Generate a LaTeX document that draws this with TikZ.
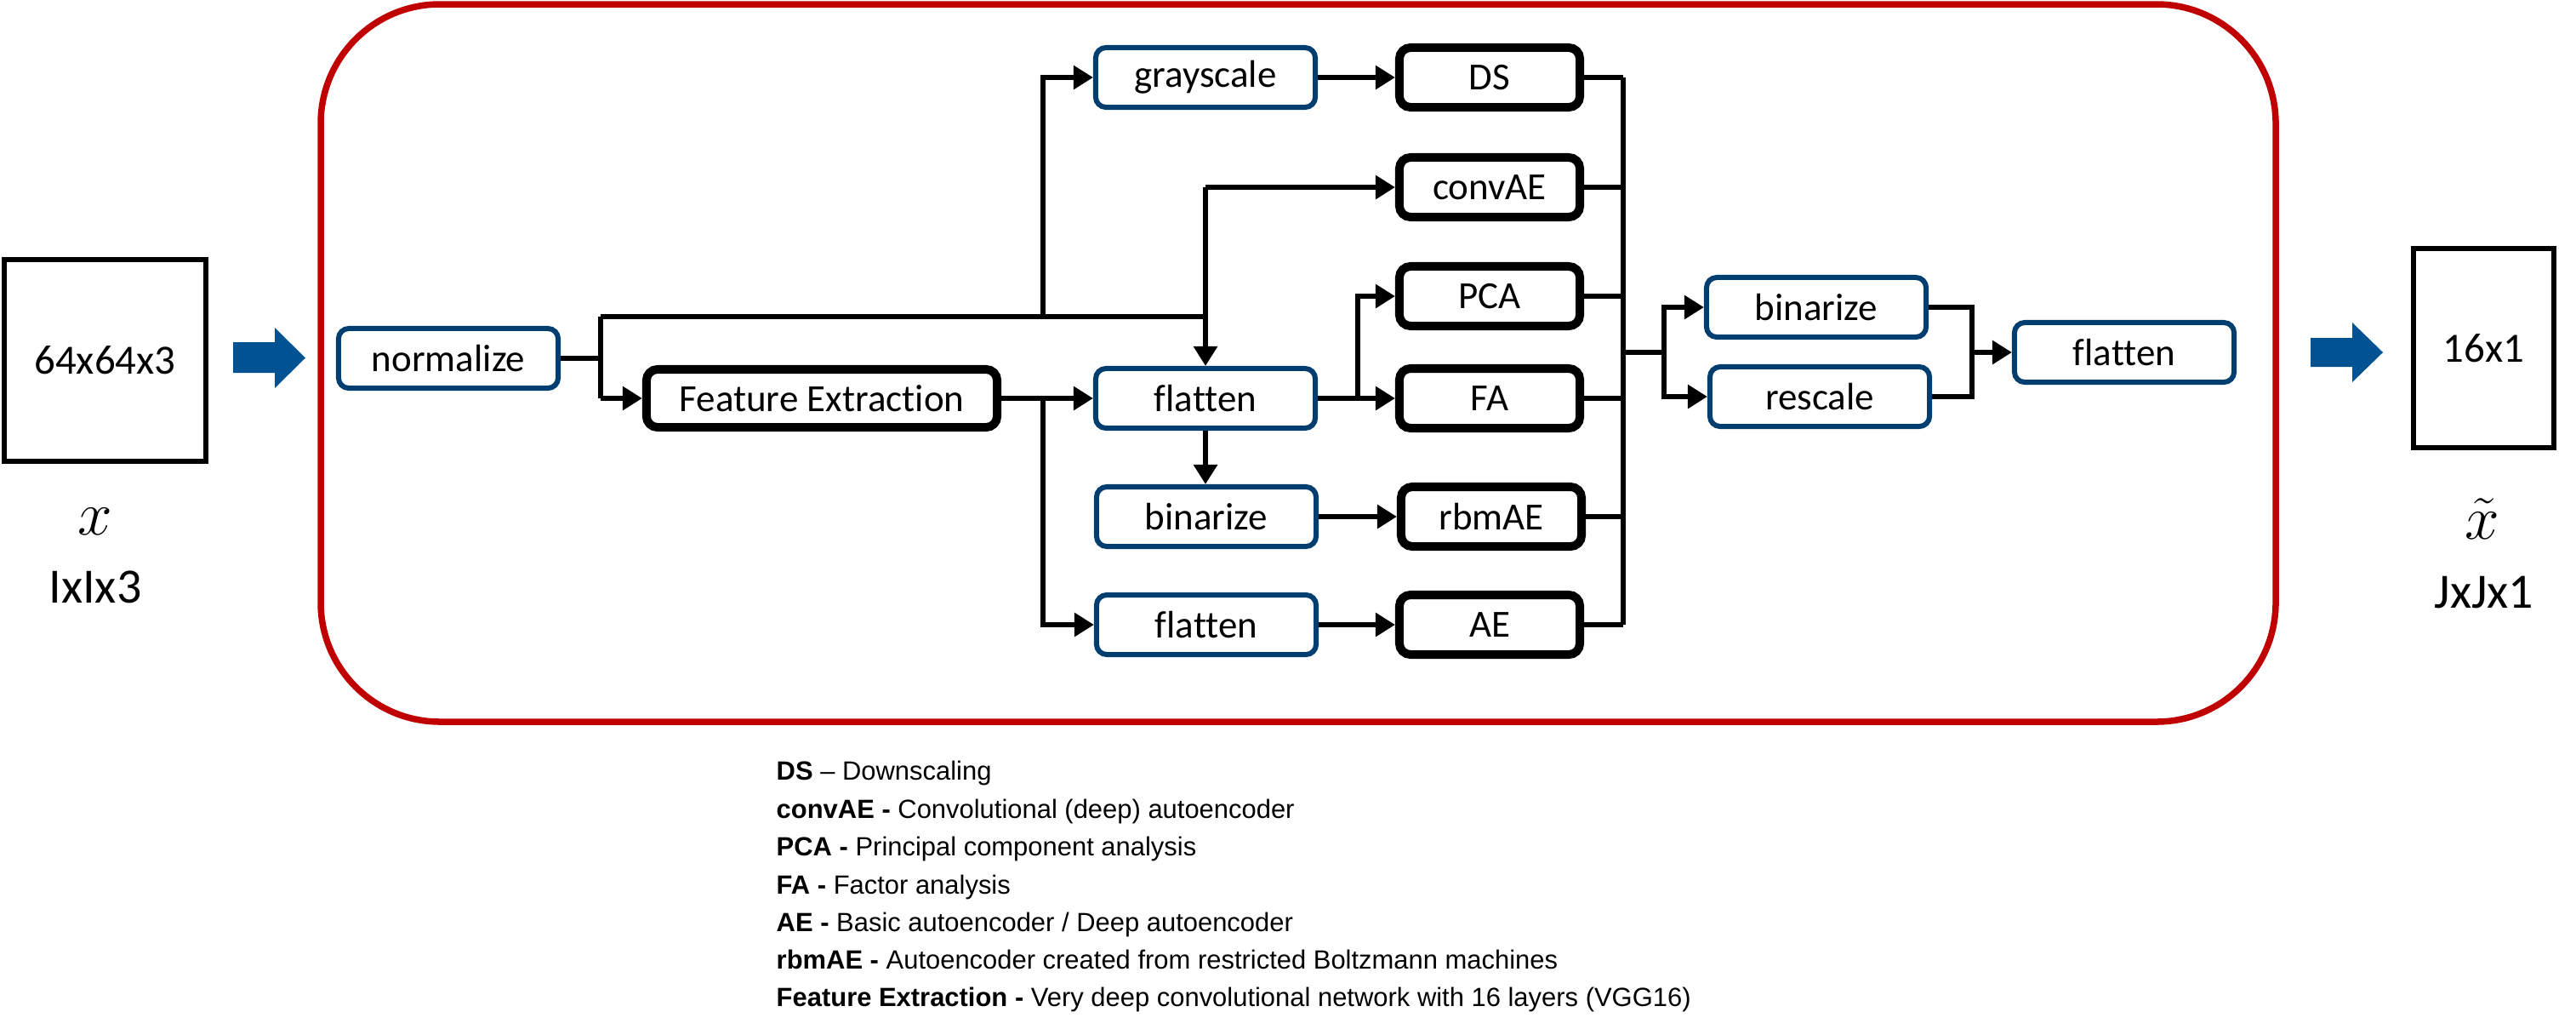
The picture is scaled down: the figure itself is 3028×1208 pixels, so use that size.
\documentclass[tikz,border=0pt]{standalone}
\usepackage{fontspec}
\setmainfont[Ligatures={TeX,NoCommon}]{Carlito}
\newfontfamily\legendfont{Liberation Sans}
\usetikzlibrary{arrows.meta}
\definecolor{boxblue}{RGB}{0,62,112}
\definecolor{arrowblue}{RGB}{0,82,147}
\definecolor{framered}{RGB}{192,0,0}

\begin{document}
\begin{tikzpicture}[x=0.01cm, y=-0.01cm,
    bluebox/.style={draw=boxblue, line width=0.06cm, rounded corners=0.12cm, minimum width=2.58cm, minimum height=0.70cm, inner sep=0, font=\fontsize{12.8}{15}\selectfont},
    blackbox/.style={draw, line width=0.10cm, rounded corners=0.13cm, minimum width=2.12cm, minimum height=0.70cm, inner sep=0, font=\fontsize{12.8}{15}\selectfont},
    conn/.style={line width=0.063cm},
    arr/.style={conn, -{Triangle[length=0.23cm,width=0.27cm]}},
    legend/.style={anchor=base west, inner sep=0, font=\legendfont\fontsize{8.8}{10}\selectfont}]
    \useasboundingbox (0,0) rectangle (3028,1208);

    % input and output
    \node[draw, line width=0.06cm, minimum width=2.37cm, minimum height=2.37cm, font=\fontsize{13.9}{16}\selectfont] (inbox) at (123.5,423.5) {64x64x3};
    \node (xin) at (112,613) {\fontsize{20}{24}\selectfont$x$};
    \node[font=\fontsize{16.5}{19}\selectfont] (sizein) at (112,690) {IxIx3};
    \node[draw, line width=0.06cm, minimum width=1.65cm, minimum height=2.34cm, font=\fontsize{13.9}{16}\selectfont] (outbox) at (2919.5,409) {16x1};
    \node (xout) at (2918,610) {\fontsize{20}{24}\selectfont$\tilde{x}$};
    \node[font=\fontsize{16.5}{19}\selectfont] (sizeout) at (2920,696) {JxJx1};
    \fill[arrowblue] (274,402) -- (323,402) -- (323,385) -- (359,420.5) -- (323,456) -- (323,438) -- (274,438) -- cycle;
    \fill[arrowblue] (2716,397) -- (2765,397) -- (2765,379) -- (2801,414) -- (2765,449) -- (2765,431) -- (2716,431) -- cycle;

    \draw[framered, line width=0.075cm, rounded corners=1.4cm] (377,5) rectangle (2675,848);

    % boxes
    \node[bluebox] (norm) at (527,421) {normalize};
    \node[blackbox, minimum width=4.12cm, minimum height=0.68cm] (fe) at (966,468) {Feature Extraction};
    \node[bluebox] (gray) at (1417,91) {grayscale};
    \node[bluebox] (flat1) at (1417,468) {flatten};
    \node[bluebox] (bin1) at (1418,607) {binarize};
    \node[bluebox] (flat2) at (1418,734) {flatten};
    \node[blackbox] (ds) at (1751,91) {DS};
    \node[blackbox] (cae) at (1751,220) {convAE};
    \node[blackbox] (pca) at (1751,348) {PCA};
    \node[blackbox] (fa) at (1751,468) {FA};
    \node[blackbox] (rbm) at (1753,607) {rbmAE};
    \node[blackbox] (ae) at (1751,734) {AE};
    \node[bluebox] (bin2) at (2135,361) {binarize};
    \node[bluebox] (resc) at (2139,466) {rescale};
    \node[bluebox] (flat3) at (2497,414) {flatten};

    % junctions
    \coordinate (jnt) at (706,372);
    \coordinate (jnb) at (706,468);
    \coordinate (jg) at (1226,372);
    \coordinate (jf) at (1226,468);
    \coordinate (jp) at (1596,468);
    \coordinate (bus) at (1908,414);
    \coordinate (jb) at (1956,414);
    \coordinate (jm) at (2318,414);

    % connectors
    \draw[conn] (norm.east) -- (norm.east -| jnt);
    \draw[conn] (jnt) -- (jnb);
    \draw[arr] (jnb) -- (fe.west);
    \draw[conn] (jnt) -- (jnt -| flat1.north);
    \draw[arr] (jg) |- (gray.west);
    \draw[arr] (flat1.north |- cae.west) -- (cae.west);
    \draw[arr] (flat1.north |- cae.west) -- (flat1.north);
    \draw[arr] (fe.east) -- (flat1.west);
    \draw[arr] (jf) |- (flat2.west);
    \draw[arr] (gray.east) -- (ds.west);
    \draw[arr] (flat1.east) -- (fa.west);
    \draw[arr] (jp) |- (pca.west);
    \draw[arr] (flat1.south) -- (bin1.north -| flat1.south);
    \draw[arr] (bin1.east) -- (rbm.west);
    \draw[arr] (flat2.east) -- (ae.west);
    \draw[conn] (ds.east) -- (ds.east -| bus);
    \draw[conn] (cae.east) -- (cae.east -| bus);
    \draw[conn] (pca.east) -- (pca.east -| bus);
    \draw[conn] (fa.east) -- (fa.east -| bus);
    \draw[conn] (rbm.east) -- (rbm.east -| bus);
    \draw[conn] (ae.east) -- (ae.east -| bus);
    \draw[conn] (ds.east -| bus) -- (ae.east -| bus);
    \draw[conn] (bus) -- (jb);
    \draw[arr] (jb) |- (bin2.west);
    \draw[arr] (jb) |- (resc.west);
    \draw[conn] (bin2.east) -| (jm);
    \draw[conn] (resc.east) -| (jm);
    \draw[arr] (jm) -- (flat3.west);

    % legend
    \node[legend] (lds) at (912,916) {\textbf{DS} \textendash{} Downscaling};
    \node[legend] (lcae) at (912,961) {\textbf{convAE -} Convolutional (deep) autoencoder};
    \node[legend] (lpca) at (912,1005) {\textbf{PCA -} Principal component analysis};
    \node[legend] (lfa) at (912,1050) {\textbf{FA -} Factor analysis};
    \node[legend] (lae) at (912,1094) {\textbf{AE -} Basic autoencoder / Deep autoencoder};
    \node[legend] (lrbm) at (912,1138) {\textbf{rbmAE -} Autoencoder created from restricted Boltzmann machines};
    \node[legend] (lfe) at (912,1182) {\textbf{Feature Extraction -} Very deep convolutional network with 16 layers (VGG16)};
\end{tikzpicture}
\end{document}
